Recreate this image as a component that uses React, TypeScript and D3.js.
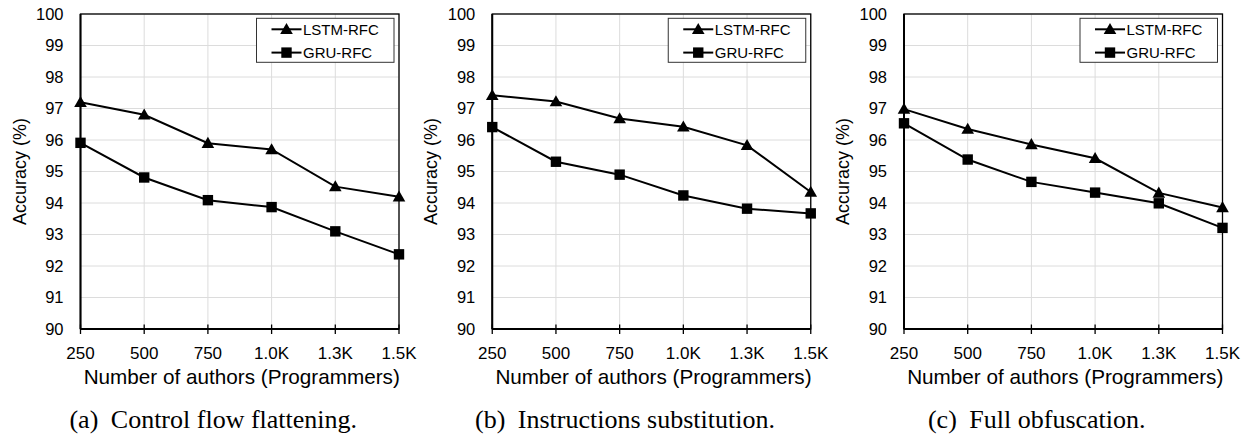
import React from "react";
import * as d3 from "d3";

const categories = ["250", "500", "750", "1.0K", "1.3K", "1.5K"];
const yTicks = [90, 91, 92, 93, 94, 95, 96, 97, 98, 99, 100];
const seriesNames = ["LSTM-RFC", "GRU-RFC"];

const lstmA = [97.2, 96.8, 95.9, 95.7, 94.52, 94.2];
const gruA = [95.91, 94.81, 94.09, 93.87, 93.1, 92.37];

const lstmB = [97.42, 97.22, 96.68, 96.42, 95.83, 94.35];
const gruB = [96.41, 95.31, 94.9, 94.24, 93.82, 93.67];

const lstmC = [96.98, 96.35, 95.86, 95.42, 94.32, 93.86];
const gruC = [96.53, 95.38, 94.67, 94.33, 93.99, 93.21];

const captions = [
  ["(a)", "Control flow flattening."],
  ["(b)", "Instructions substitution."],
  ["(c)", "Full obfuscation."],
];

const panels = [
  { lstm: lstmA, gru: gruA },
  { lstm: lstmB, gru: gruB },
  { lstm: lstmC, gru: gruC },
];

const W = 1250;
const H = 437;
const plotW = 318.5;
const top = 14;
const bottom = 329;
const panelStep = 411.75;
const firstLeft = 80.5;
const sans = "'Liberation Sans', Arial, sans-serif";
const serif = "'Liberation Serif', 'Times New Roman', serif";

function Triangle({ x, y }: { x: number; y: number }) {
  const s = 6.3;
  return (
    <path
      d={`M${x},${y - s}L${x + s * 1.0},${y + s * 0.75}L${x - s * 1.0},${y + s * 0.75}Z`}
      fill="#000"
    />
  );
}

function Square({ x, y }: { x: number; y: number }) {
  const s = 5.2;
  return <rect x={x - s} y={y - s} width={2 * s} height={2 * s} fill="#000" />;
}

function Panel({ idx }: { idx: number }) {
  const left = firstLeft + idx * panelStep;
  const xs = d3.scalePoint<string>().domain(categories).range([0, plotW]);
  const ys = d3.scaleLinear().domain([90, 100]).range([bottom - top, 0]);
  const h = bottom - top;
  const data = panels[idx];
  const line = d3
    .line<number>()
    .x((_, i) => xs(categories[i]) as number)
    .y((d) => ys(d));
  const legX = plotW - 142.5;
  const legY = 4.3;
  return (
    <g transform={`translate(${left},${top})`}>
      {yTicks.map((t) => (
        <line key={"gy" + t} x1={0} x2={plotW} y1={ys(t)} y2={ys(t)} stroke="#dcdcdc" strokeWidth={1} />
      ))}
      {categories.map((c) => (
        <line key={"gx" + c} x1={xs(c)} x2={xs(c)} y1={0} y2={h} stroke="#dcdcdc" strokeWidth={1} />
      ))}
      <rect x={0} y={0} width={plotW} height={h} fill="none" stroke="#000" strokeWidth={1.3} />
      <line x1={0} x2={0} y1={0} y2={h} stroke="#000" strokeWidth={2} />
      <line x1={0} x2={plotW} y1={h} y2={h} stroke="#000" strokeWidth={2} />
      {categories.map((c) => (
        <line key={"tx" + c} x1={xs(c)} x2={xs(c)} y1={h - 4.5} y2={h + 5} stroke="#000" strokeWidth={1.3} />
      ))}
      {yTicks.map((t) => (
        <text
          key={"ty" + t}
          x={-17}
          y={ys(t) + 5.8}
          textAnchor="end"
          fontFamily={sans}
          fontSize={16.5}
          fill="#000"
        >
          {t}
        </text>
      ))}
      {categories.map((c) => (
        <text key={"lx" + c} x={xs(c)} y={h + 29.5} textAnchor="middle" fontFamily={sans} fontSize={17} fill="#000">
          {c}
        </text>
      ))}
      <text x={plotW / 2 + 2} y={h + 55} textAnchor="middle" fontFamily={sans} fontSize={20.7} fill="#000">
        Number of authors (Programmers)
      </text>
      <text
        transform={`translate(${-55},${h / 2}) rotate(-90)`}
        textAnchor="middle"
        fontFamily={sans}
        fontSize={18}
        fill="#000"
      >
        Accuracy (%)
      </text>
      <path d={line(data.lstm) || ""} fill="none" stroke="#000" strokeWidth={2} />
      <path d={line(data.gru) || ""} fill="none" stroke="#000" strokeWidth={2} />
      {data.lstm.map((v, i) => (
        <Triangle key={"m1" + i} x={xs(categories[i]) as number} y={ys(v)} />
      ))}
      {data.gru.map((v, i) => (
        <Square key={"m2" + i} x={xs(categories[i]) as number} y={ys(v)} />
      ))}
      <g transform={`translate(${legX},${legY})`}>
        <rect x={0} y={0} width={137.5} height={44} fill="#fff" stroke="#333" strokeWidth={1} />
        {seriesNames.map((n, i) => {
          const yy = 11 + i * 23.3;
          return (
            <g key={n}>
              <line x1={15} x2={45} y1={yy} y2={yy} stroke="#000" strokeWidth={2} />
              {i === 0 ? <Triangle x={30} y={yy} /> : <Square x={30} y={yy} />}
              <text x={46.5} y={yy + 5.3} fontFamily={sans} fontSize={15} fill="#000">
                {n}
              </text>
            </g>
          );
        })}
      </g>
      <text x={plotW / 2 - 26.5} y={h + 99} textAnchor="middle" fontFamily={serif} fontSize={26} fill="#000">
        <tspan>{captions[idx][0]}</tspan>
        <tspan dx={6}> {captions[idx][1]}</tspan>
      </text>
    </g>
  );
}

export default function App() {
  return (
    <div style={{ position: "absolute", left: 0, top: 0 }}>
      <svg width={W} height={H} viewBox={`0 0 ${W} ${H}`} style={{ display: "block", background: "#fff" }}>
        <rect width={W} height={H} fill="#fff" />
        {[0, 1, 2].map((i) => (
          <Panel key={i} idx={i} />
        ))}
      </svg>
    </div>
  );
}
